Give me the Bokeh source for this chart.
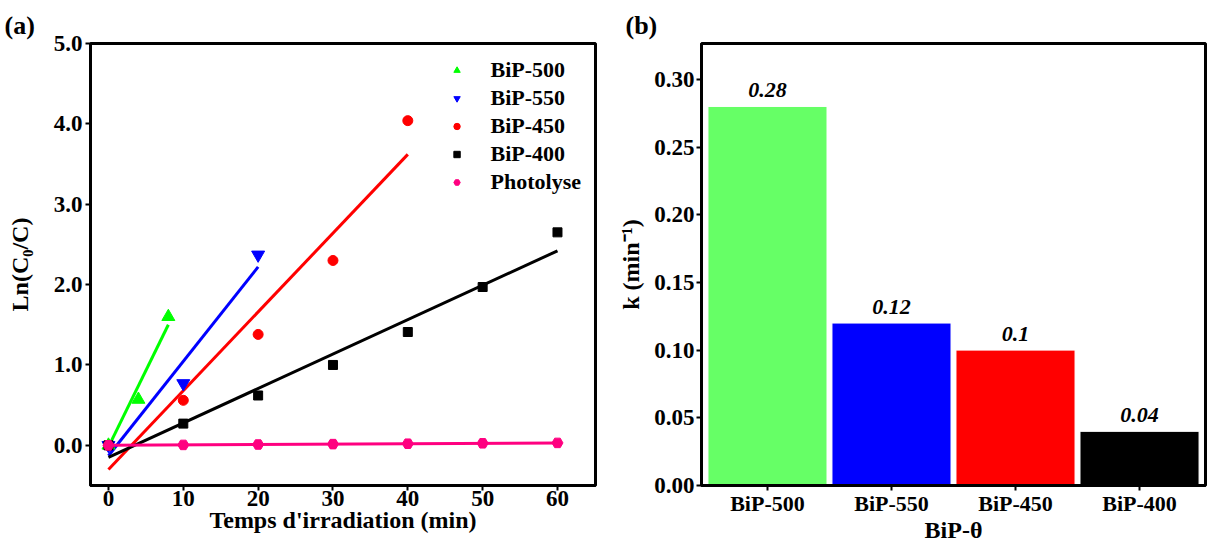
from bokeh.plotting import figure
from bokeh.layouts import row
from bokeh.models import (ColumnDataSource, Legend, LegendItem, FixedTicker, Range1d,
                          FactorRange, NumeralTickFormatter, Title)
from bokeh.embed import file_html
from bokeh.resources import INLINE
from bokeh.core.properties import value

# ---------------- data: panel (a) ----------------
t_500 = [0, 4, 8]
y_500 = [0.0, 0.57, 1.60]
t_550 = [0, 10, 20]
y_550 = [0.0, 0.77, 2.37]
t_450 = [0, 10, 20, 30, 40]
y_450 = [0.0, 0.56, 1.38, 2.30, 4.04]
t_400 = [0, 10, 20, 30, 40, 50, 60]
y_400 = [0.0, 0.27, 0.62, 1.00, 1.41, 1.97, 2.65]
t_ph = [0, 10, 20, 30, 40, 50, 60]
y_ph = [0.0, 0.005, 0.01, 0.015, 0.02, 0.025, 0.03]

# linear fits (end points)
fit_500_t = [0, 8]
fit_500_y = [-0.02, 1.50]
fit_550_t = [0, 20]
fit_550_y = [-0.13, 2.22]
fit_450_t = [0, 40]
fit_450_y = [-0.30, 3.62]
fit_400_t = [0, 60]
fit_400_y = [-0.15, 2.42]
fit_ph_t = [0, 60]
fit_ph_y = [0.0, 0.03]

x_ticks_a = [0, 10, 20, 30, 40, 50, 60]
y_ticks_a = [0, 1, 2, 3, 4, 5]

# ---------------- data: panel (b) ----------------
samples = ["BiP-500", "BiP-550", "BiP-450", "BiP-400"]
k_values = [0.28, 0.12, 0.10, 0.04]
k_labels = ["0.28", "0.12", "0.1", "0.04"]
y_ticks_b = [0.0, 0.05, 0.10, 0.15, 0.20, 0.25, 0.30]

# ---------------- styles ----------------
FONT = "Liberation Serif"
GREEN = "#00FF00"
BLUE = "#0000FF"
RED = "#FF0000"
BLACK = "#000000"
PINK = "#FF0080"
bar_colors = ["#66FF66", "#0000FF", "#FF0000", "#000000"]


def style_axes(p, tick_size="23px", label_size="24px"):
    for ax in (p.xaxis[0], p.yaxis[0]):
        ax.axis_line_width = 3
        ax.axis_line_color = "black"
        ax.major_tick_line_width = 2
        ax.major_tick_in = 0
        ax.major_tick_out = 5
        ax.minor_tick_line_color = None
        ax.major_label_text_font = FONT
        ax.major_label_text_font_style = "bold"
        ax.major_label_text_font_size = tick_size
        ax.major_label_text_color = "black"
        ax.axis_label_text_font = FONT
        ax.axis_label_text_font_style = "bold"
        ax.axis_label_text_font_size = label_size
        ax.axis_label_text_color = "black"
    p.xgrid.visible = False
    p.ygrid.visible = False
    p.outline_line_color = "black"
    p.outline_line_width = 3
    p.outline_line_alpha = 1.0


# ================= panel (a) =================
pa = figure(width=615, height=545, output_backend="svg", toolbar_location=None,
            x_range=Range1d(-2.4, 65.08), y_range=Range1d(-0.5, 5.0),
            min_border_left=90, min_border_right=20, min_border_top=43, min_border_bottom=59)
pa.add_layout(Title(text="(a)", align="left", offset=-86, standoff=7, text_font=FONT,
                    text_font_style="bold", text_font_size="26px", text_color="black"), "above")
style_axes(pa)
pa.xaxis.ticker = FixedTicker(ticks=x_ticks_a)
pa.yaxis.ticker = FixedTicker(ticks=y_ticks_a)
pa.yaxis.formatter = NumeralTickFormatter(format="0.0")
pa.xaxis.axis_label = "Temps d'irradiation (min)"
pa.yaxis.axis_label = "Ln(C\u2080/C)"
pa.xaxis.major_label_standoff = 0
pa.yaxis.major_label_standoff = 3
pa.xaxis.axis_label_standoff = -2
pa.yaxis.axis_label_standoff = 18

LW = 3
pa.line(fit_500_t, fit_500_y, line_color=GREEN, line_width=LW)
pa.line(fit_550_t, fit_550_y, line_color=BLUE, line_width=LW)
pa.line(fit_450_t, fit_450_y, line_color=RED, line_width=LW)
pa.line(fit_400_t, fit_400_y, line_color=BLACK, line_width=LW)

r500 = pa.scatter(t_500, y_500, marker="triangle", size=13, color=GREEN)
r550 = pa.scatter(t_550, y_550, marker="inverted_triangle", size=13, color=BLUE)
r450 = pa.scatter(t_450, y_450, marker="circle", size=10, color=RED)
r400 = pa.scatter(t_400, y_400, marker="square", size=9, color=BLACK)
pa.line(fit_ph_t, fit_ph_y, line_color=PINK, line_width=LW)
rph = pa.scatter(t_ph, y_ph, marker="hex", size=11, color=PINK)

legend = Legend(items=[
    LegendItem(label="BiP-500", renderers=[r500]),
    LegendItem(label="BiP-550", renderers=[r550]),
    LegendItem(label="BiP-450", renderers=[r450]),
    LegendItem(label="BiP-400", renderers=[r400]),
    LegendItem(label="Photolyse", renderers=[rph]),
], location="top_right")
legend.border_line_alpha = 0
legend.background_fill_alpha = 0
legend.label_text_font = FONT
legend.label_text_font_style = "bold"
legend.label_text_font_size = "22px"
legend.label_text_color = "black"
legend.spacing = 2
legend.glyph_width = 16
legend.glyph_height = 22
legend.label_height = 22
legend.label_standoff = 26
legend.margin = 4
legend.padding = 10
pa.add_layout(legend)

# ================= panel (b) =================
pb = figure(width=594, height=545, output_backend="svg", toolbar_location=None,
            x_range=FactorRange(*samples, range_padding=0.032, range_padding_units="absolute"),
            y_range=Range1d(0.0, 0.3265),
            min_border_left=84, min_border_right=4, min_border_top=43, min_border_bottom=58)
pb.add_layout(Title(text="(b)", align="left", offset=-76, standoff=7, text_font=FONT,
                    text_font_style="bold", text_font_size="26px", text_color="black"), "above")
style_axes(pb)
pb.xaxis.major_label_text_font_size = "22px"
pb.yaxis.ticker = FixedTicker(ticks=y_ticks_b)
pb.yaxis.formatter = NumeralTickFormatter(format="0.00")
pb.xaxis.axis_label = "BiP-\u03b8"
pb.yaxis.axis_label = "k (min\u207b\u00b9)"
pb.xaxis.major_label_standoff = 0
pb.yaxis.major_label_standoff = 2
pb.xaxis.axis_label_standoff = -2
pb.yaxis.axis_label_standoff = 7

src = ColumnDataSource(dict(x=samples, top=k_values, color=bar_colors, lab=k_labels))
pb.vbar(x="x", top="top", width=0.96, bottom=0, source=src, fill_color="color",
        line_color="white", line_width=1)
pb.text(x="x", y="top", text="lab", source=src, text_align="center", text_baseline="bottom",
        y_offset=-9, text_font=value(FONT), text_font_style="bold italic",
        text_font_size="22px", text_color="black")

layout = row(pa, pb)
open("out.html", "w").write(file_html(layout, INLINE))
